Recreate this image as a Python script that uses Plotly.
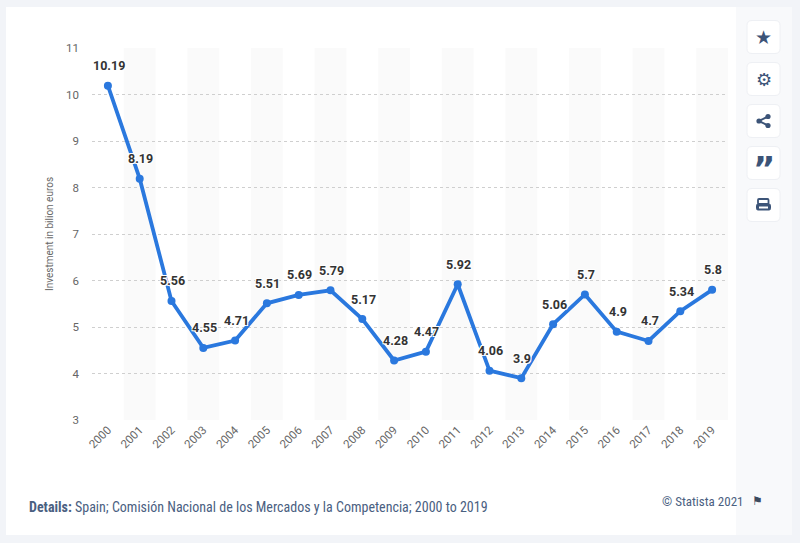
import plotly.graph_objects as go

# data
years = [str(y) for y in range(2000, 2020)]
investment = [10.19, 8.19, 5.56, 4.55, 4.71, 5.51, 5.69, 5.79, 5.17, 4.28,
              4.47, 5.92, 4.06, 3.9, 5.06, 5.7, 4.9, 4.7, 5.34, 5.8]
labels = ["10.19", "8.19", "5.56", "4.55", "4.71", "5.51", "5.69", "5.79", "5.17", "4.28",
          "4.47", "5.92", "4.06", "3.9", "5.06", "5.7", "4.9", "4.7", "5.34", "5.8"]
y_ticks = [3, 4, 5, 6, 7, 8, 9, 10, 11]

W, H = 800, 543
L, R, T, B = 92, 72, 48, 123
PW, PH = W - L - R, H - T - B


def px(x):
    return (x - L) / PW


def py(y):
    return (H - B - y) / PH


halo = "-1px -1px 0 #fff, 1px -1px 0 #fff, -1px 1px 0 #fff, 1px 1px 0 #fff"
icon_col = "#3c5478"

fig = go.Figure()
fig.add_trace(go.Scatter(
    x=years, y=investment,
    mode="lines+markers",
    line=dict(color="#2a78de", width=3.8),
    marker=dict(color="#2a78de", size=8),
    hoverinfo="x+y",
    cliponaxis=False,
    showlegend=False,
))

annotations = []
# value labels above the points (category axis positions by index)
for i, (v, lab) in enumerate(zip(investment, labels)):
    annotations.append(dict(
        x=i, y=v, xref="x", yref="y", text=lab, showarrow=False,
        yshift=20, xshift=1, xanchor="center", yanchor="middle",
        font=dict(family="Roboto, Arial", size=12.5, color="#333333",
                  weight="bold", shadow=halo)))

shapes = []
# card
shapes.append(dict(type="rect", xref="paper", yref="paper",
                   x0=px(6), x1=px(792), y0=py(535), y1=py(7),
                   fillcolor="#ffffff", line=dict(width=0), layer="below"))
# side panel
shapes.append(dict(type="rect", xref="paper", yref="paper",
                   x0=px(736), x1=px(792), y0=py(535), y1=py(7),
                   fillcolor="#f8f9fb", line=dict(width=0), layer="below"))
# alternating column bands
for i in range(1, len(years), 2):
    shapes.append(dict(type="rect", xref="x", yref="paper",
                       x0=i - 0.5, x1=i + 0.5, y0=0, y1=1,
                       fillcolor="#fafafa", line=dict(width=0), layer="below"))


def rounded(x0, y0, x1, y1, r):
    return (f"M {px(x0 + r)},{py(y0)} L {px(x1 - r)},{py(y0)} "
            f"Q {px(x1)},{py(y0)} {px(x1)},{py(y0 + r)} L {px(x1)},{py(y1 - r)} "
            f"Q {px(x1)},{py(y1)} {px(x1 - r)},{py(y1)} L {px(x0 + r)},{py(y1)} "
            f"Q {px(x0)},{py(y1)} {px(x0)},{py(y1 - r)} L {px(x0)},{py(y0 + r)} "
            f"Q {px(x0)},{py(y0)} {px(x0 + r)},{py(y0)} Z")


# sidebar buttons
icons = [("★", 19, 0), ("⚙", 18, 0), ("", 0, 0), ("”", 34, 6), ("", 0, 0)]
for k, (ic, sz, dy) in enumerate(icons):
    cy = 37 + 42 * k
    shapes.append(dict(type="path", xref="paper", yref="paper",
                       path=rounded(747, cy - 16.5, 780, cy + 16.5, 5),
                       fillcolor="#ffffff", line=dict(color="#eef0f4", width=1),
                       layer="below"))
    if ic:
        annotations.append(dict(xref="paper", yref="paper", x=px(763.5), y=py(cy + dy),
                                text=f"<b>{ic}</b>", showarrow=False,
                                font=dict(family="DejaVu Sans", size=sz, color=icon_col),
                                xanchor="center", yanchor="middle"))

# share icon drawn from small pieces
cy = 37 + 42 * 2
for (ax, ay, bx, by) in [(759, cy, 768, cy - 4.5), (759, cy, 768, cy + 4.5)]:
    shapes.append(dict(type="line", xref="paper", yref="paper",
                       x0=px(ax), y0=py(ay), x1=px(bx), y1=py(by),
                       line=dict(color=icon_col, width=2)))
for (cx_, cy_) in [(759, cy), (768, cy - 4.5), (768, cy + 4.5)]:
    shapes.append(dict(type="circle", xref="paper", yref="paper",
                       x0=px(cx_ - 2.6), x1=px(cx_ + 2.6),
                       y0=py(cy_ + 2.6), y1=py(cy_ - 2.6),
                       fillcolor=icon_col, line=dict(width=0)))

# print icon drawn from small pieces
cy = 37 + 42 * 4
shapes.append(dict(type="path", xref="paper", yref="paper",
                   path=rounded(758, cy - 6, 768.5, cy - 1, 1),
                   fillcolor="rgba(0,0,0,0)", line=dict(color=icon_col, width=1.8)))
shapes.append(dict(type="path", xref="paper", yref="paper",
                   path=rounded(756.5, cy - 1, 770.5, cy + 5, 1.5),
                   fillcolor=icon_col, line=dict(color=icon_col, width=1)))
shapes.append(dict(type="rect", xref="paper", yref="paper",
                   x0=px(759), x1=px(768), y0=py(cy + 3.5), y1=py(cy + 1.5),
                   fillcolor="#ffffff", line=dict(width=0)))

foot_font = "Liberation Sans Narrow, Roboto Condensed, Roboto, Arial Narrow"
annotations.append(dict(
    xref="paper", yref="paper", x=px(27), y=py(507), xanchor="left", yanchor="middle",
    text="<b>Details:</b> Spain; Comisión Nacional de los Mercados y la Competencia; 2000 to 2019",
    showarrow=False,
    font=dict(family=foot_font, size=14, color="#4a6081")))
annotations.append(dict(
    xref="paper", yref="paper", x=px(746), y=py(501), xanchor="right", yanchor="middle",
    text="© Statista 2021", showarrow=False,
    font=dict(family=foot_font, size=13, color="#4a6081")))
annotations.append(dict(
    xref="paper", yref="paper", x=px(757), y=py(501), xanchor="center", yanchor="middle",
    text="⚑", showarrow=False,
    font=dict(family="DejaVu Sans", size=12, color="#3c4a5e")))

fig.update_layout(
    width=W, height=H,
    margin=dict(l=L, r=R, t=T, b=B, autoexpand=False),
    paper_bgcolor="#f2f4f8",
    plot_bgcolor="rgba(0,0,0,0)",
    font=dict(family="Roboto, Arial", color="#666666"),
    shapes=shapes,
    annotations=annotations,
    xaxis=dict(
        type="category",
        range=[-0.5, len(years) - 0.5],
        tickangle=-45,
        tickfont=dict(size=11.5, color="#666666"),
        showgrid=False, zeroline=False, showline=False,
        ticks="", automargin=False,
    ),
    yaxis=dict(
        range=[3, 11],
        tickvals=y_ticks,
        tickfont=dict(size=11.5, color="#666666"),
        showgrid=True, gridcolor="#cfcfcf", griddash="dot", gridwidth=1,
        zeroline=False, showline=False,
        ticks="", ticklabelstandoff=12, automargin=False,
        title=dict(text="Investment in bilion euros", font=dict(size=10, color="#666666"),
                   standoff=10),
    ),
)

fig.write_html("out.html", config={"displayModeBar": False},
               post_script="document.body.style.margin='0';")
